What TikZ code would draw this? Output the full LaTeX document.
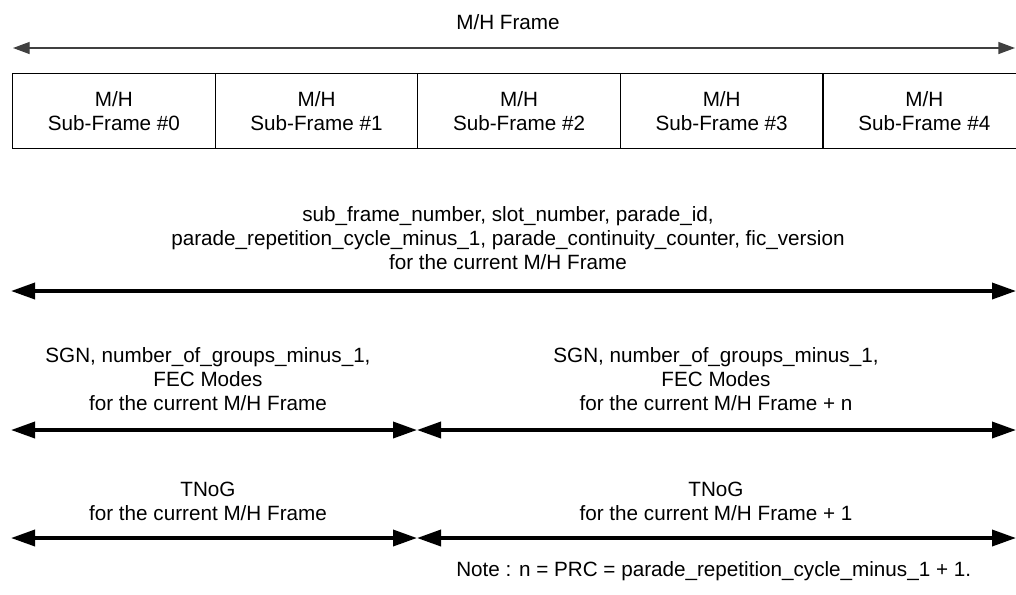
\documentclass[tikz,border=0pt]{standalone}
\usepackage{fontspec}
\setmainfont{Liberation Sans}
\usetikzlibrary{arrows.meta}
\begin{document}
\begin{tikzpicture}[x=0.75pt,y=-0.75pt,
  every node/.style={font=\fontsize{15.5}{18}\selectfont, align=center, inner sep=0pt},
  subframe/.style={draw=black, line width=0.9pt, minimum width=202.6*0.75pt, minimum height=75*0.75pt, anchor=north west},
  span/.style={line width=2.7pt, {Triangle[length=18pt,width=12pt]}-{Triangle[length=18pt,width=12pt]}},
  thinspan/.style={draw=black!75, line width=1pt, {Triangle[length=12.5pt,width=9pt]}-{Triangle[length=12.5pt,width=9pt]}}]
\useasboundingbox (0,0) rectangle (1016,594);
\clip (0,0) rectangle (1016,594);

% overall frame span
\node (frame) at (508,22) {M/H Frame};
\coordinate (fl) at (13,48);
\coordinate (fr) at (1015,48);
\draw[thinspan] (fl) -- (fr);

% sub-frames
\foreach \i in {0,...,4} {
  \node[subframe] (sf\i) at ({12+202.6*\i},73) {M/H\\Sub-Frame \#\i};
}

% signalling for the current frame
\node (cur) at (508,238) {sub\_frame\_number, slot\_number, parade\_id,\\parade\_repetition\_cycle\_minus\_1, parade\_continuity\_counter, fic\_version\\for the current M/H Frame};
\coordinate (cl) at (11,291);
\coordinate (cr) at (1016,291);
\draw[span] (cl) -- (cr);

% SGN / FEC modes
\node (sgnA) at (208,379) {SGN, number\_of\_groups\_minus\_1,\\FEC Modes\\for the current M/H Frame};
\node (sgnB) at (716,379) {SGN, number\_of\_groups\_minus\_1,\\FEC Modes\\for the current M/H Frame + n};
\coordinate (sl) at (11,430);
\coordinate (sm) at (417,430);
\coordinate (sr) at (1016,430);
\draw[span] (sl) -- (sm);
\draw[span] (sm) -- (sr);

% TNoG
\node (tnA) at (208,501) {TNoG\\for the current M/H Frame};
\node (tnB) at (716,501) {TNoG\\for the current M/H Frame + 1};
\coordinate (tl) at (11,538);
\coordinate (tm) at (417,538);
\coordinate (tr) at (1016,538);
\draw[span] (tl) -- (tm);
\draw[span] (tm) -- (tr);

% note
\node[anchor=west] (note) at (456,571) {Note : n = PRC = parade\_repetition\_cycle\_minus\_1 + 1.};
\end{tikzpicture}
\end{document}
